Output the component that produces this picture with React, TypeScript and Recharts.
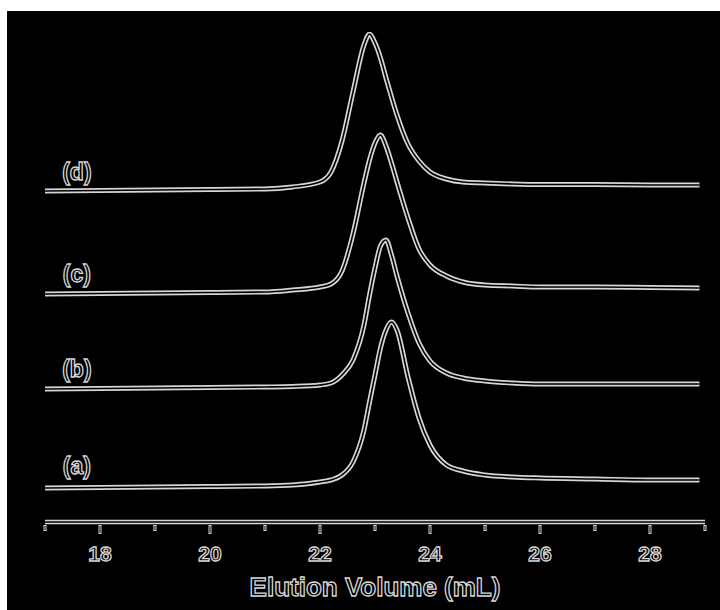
import { LineChart, Line, XAxis, YAxis, ReferenceLine, ReferenceDot } from 'recharts'

// elution volume (mL) where the traces were read
const volume = [
  17, 18, 19, 20, 21, 21.5, 22, 22.2, 22.4, 22.6, 22.8, 22.9, 23.0, 23.1, 23.2,
  23.3, 23.4, 23.6, 23.8, 24.0, 24.3, 24.6, 25, 25.5, 26, 27, 28, 28.9,
]

// detector signal (arb. units), each trace relative to its own baseline
const traceA = [0, 0.5, 1, 1.5, 2, 3, 6, 8, 13, 26, 58, 86, 113, 140, 158, 166, 158, 111, 70, 43, 23, 17, 13, 11, 10, 9, 8, 8]
const traceB = [0, 0.5, 1, 1.5, 2, 2.5, 4, 6, 14, 29, 64, 94, 121, 143, 149, 134, 113, 76, 46, 28, 16, 11, 8, 6, 5, 5, 5, 5]
const traceC = [0, 0.5, 1, 1.5, 2, 4, 7, 10, 23, 60, 111, 134, 151, 159, 148, 131, 112, 76, 45, 29, 18, 12, 9, 8, 7, 7, 6.5, 6]
const traceD = [0, 0.5, 1, 1.5, 2, 4, 9, 19, 50, 99, 146, 157, 148, 133, 113, 94, 76, 47, 30, 19, 12, 9, 8, 7, 6.5, 6.5, 6, 6]

const traceNames = ['a', 'b', 'c', 'd']
const traceLabels = ['(a)', '(b)', '(c)', '(d)']

const allTicks = [17, 18, 19, 20, 21, 22, 23, 24, 25, 26, 27, 28, 29]
const majorTicks = [18, 20, 22, 24, 26, 28]

// vertical stacking of the traces
const stackOffset: Record<string, number> = { a: 34, b: 133, c: 228, d: 331 }
const labelLift: Record<string, number> = { a: 22, b: 20, c: 20, d: 19 }

const data = volume.map((v, i) => ({
  v,
  a: traceA[i] + stackOffset.a,
  b: traceB[i] + stackOffset.b,
  c: traceC[i] + stackOffset.c,
  d: traceD[i] + stackOffset.d,
}))

const EDGE = '#d6d6d6'
const FONT = '"Liberation Sans", Arial, sans-serif'

function Tick(props: any) {
  const { x, y, payload } = props
  const major = majorTicks.includes(payload.value)
  return (
    <g>
      <line x1={x} x2={x} y1={y + 3} y2={y + (major ? 12 : 9)} stroke={EDGE} strokeWidth={3} />
      <line x1={x} x2={x} y1={y + 4} y2={y + (major ? 11 : 8)} stroke="#000" strokeWidth={1} />
      {major && (
        <text
          x={x}
          y={y + 39}
          textAnchor="middle"
          fontFamily={FONT}
          fontWeight="bold"
          fontSize={21}
          fill="#000"
          stroke={EDGE}
          strokeWidth={1.3}
        >
          {payload.value}
        </text>
      )}
    </g>
  )
}

function AxisTitle(props: any) {
  const vb = props.viewBox || {}
  return (
    <text
      x={vb.x + vb.width / 2}
      y={vb.y + 74}
      textAnchor="middle"
      fontFamily={FONT}
      fontWeight="bold"
      fontSize={26}
      fill="#000"
      stroke={EDGE}
      strokeWidth={1.3}
    >
      Elution Volume (mL)
    </text>
  )
}

export default function App() {
  return (
    <div style={{ position: 'absolute', left: 7, top: 11, width: 713, height: 599, background: '#000' }}>
      <LineChart width={713} height={599} data={data} margin={{ top: 21, right: 15, left: 38, bottom: 28 }}>
        <XAxis
          dataKey="v"
          type="number"
          domain={[17, 29]}
          ticks={allTicks}
          interval={0}
          tick={<Tick />}
          tickSize={0}
          tickMargin={0}
          tickLine={false}
          axisLine={false}
          height={60}
          label={<AxisTitle />}
        />
        <YAxis hide domain={[0, 490]} allowDataOverflow />
        <ReferenceLine y={0} stroke={EDGE} strokeWidth={4.5} />
        <ReferenceLine y={0} stroke="#000" strokeWidth={1.5} />
        {traceNames.map(k => (
          <Line
            key={k + '-edge'}
            type="monotone"
            dataKey={k}
            stroke={EDGE}
            strokeWidth={5}
            dot={false}
            activeDot={false}
            isAnimationActive={false}
          />
        ))}
        {traceNames.map(k => (
          <Line
            key={k + '-core'}
            type="monotone"
            dataKey={k}
            stroke="#000"
            strokeWidth={1.6}
            dot={false}
            activeDot={false}
            isAnimationActive={false}
          />
        ))}
        {traceNames.map((k, i) => (
          <ReferenceDot
            key={k + '-label'}
            x={17.58}
            y={stackOffset[k] + labelLift[k]}
            r={0}
            shape={(p: any) => (
              <text
                x={p.cx}
                y={p.cy}
                textAnchor="middle"
                dominantBaseline="central"
                fontFamily={FONT}
                fontWeight="bold"
                fontSize={23}
                fill="#000"
                stroke={EDGE}
                strokeWidth={1.3}
              >
                {traceLabels[i]}
              </text>
            )}
          />
        ))}
      </LineChart>
    </div>
  )
}
